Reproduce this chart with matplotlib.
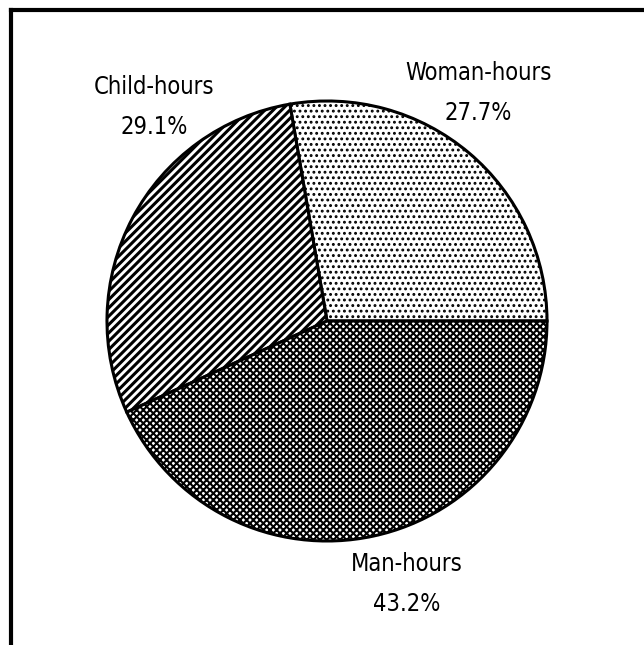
import matplotlib.pyplot as plt
from matplotlib.lines import Line2D

# Share of labour hours
labels = ["Woman-hours", "Child-hours", "Man-hours"]
shares = [27.7, 29.1, 43.2]
hatches = ["...", "////", "xxxxx"]
label_pos = [(478, 552), (154, 538), (407, 61)]

plt.rcParams["font.family"] = ["DejaVu Sans"]

fig = plt.figure(figsize=(6.44, 6.45), dpi=100)
ax = fig.add_axes([0, 0, 1, 1])

wedges, _ = ax.pie(shares, startangle=0, counterclock=True,
                   center=(327, 324), radius=220, frame=True,
                   colors=["white"] * 3,
                   wedgeprops=dict(edgecolor="black", linewidth=2.2))
for w, h in zip(wedges, hatches):
    w.set_hatch(h)
    if hasattr(w, "set_hatch_linewidth"):
        w.set_hatch_linewidth({"...": 1.3, "////": 2.2}.get(h, 1.5))

ax.set_xlim(0, 644)
ax.set_ylim(0, 645)
ax.set_aspect("equal")
ax.axis("off")

for name, val, (x, y) in zip(labels, shares, label_pos):
    ax.text(x, y, f"{name}\n{val:.1f}%", ha="center", va="center",
            fontsize=17, linespacing=1.8, fontstretch="condensed")

# frame around the chart (top and left sides only visible)
fig.add_artist(Line2D([0.017, 1.0], [0.985, 0.985], color="black", lw=3))
fig.add_artist(Line2D([0.017, 0.017], [0.0, 0.985], color="black", lw=3))

plt.savefig("out.png", dpi=100)
plt.close()
